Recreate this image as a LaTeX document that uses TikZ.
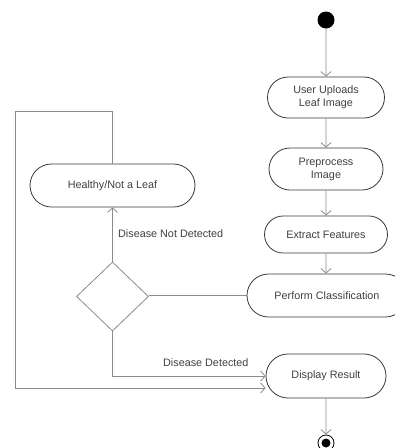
\documentclass[tikz,border=0pt]{standalone}
\usepackage{fontspec}
\setmainfont{Liberation Sans}
\usetikzlibrary{arrows.meta,shapes.geometric,shapes.misc}
\definecolor{linegray}{HTML}{8C8C8C}
\definecolor{boxline}{HTML}{3A3A3A}
\definecolor{txt}{HTML}{404040}
\begin{document}
\begin{tikzpicture}[x=1pt,y=-1pt,
  act/.style={rounded rectangle, draw=boxline, line width=0.8pt, inner sep=0pt,
    font=\fontsize{10.8}{13}\selectfont, text=txt, align=center, fill=white},
  conn/.style={draw=linegray, line width=0.8pt, -{Straight Barb[length=4.5pt,width=10pt,line width=0.8pt]}},
  plain/.style={draw=linegray, line width=0.8pt},
  lbl/.style={font=\fontsize{10.8}{13}\selectfont, text=txt, inner sep=0pt, anchor=west}]
\useasboundingbox (0,0) rectangle (395,448);
\fill[white] (0,0) rectangle (395,448);

\node[circle, fill=black, minimum size=17pt, inner sep=0pt] (st) at (326,20) {};
\node[act, minimum width=117pt, minimum height=41pt] (up) at (326,97.5) {User Uploads\\Leaf Image};
\node[act, minimum width=114pt, minimum height=42pt] (pre) at (326,169) {Preprocess\\Image};
\node[act, minimum width=123pt, minimum height=37pt] (ext) at (326,234.5) {Extract Features};
\node[act, minimum width=160pt, minimum height=43pt] (cls) at (327,295.5) {Perform Classification};
\node[act, minimum width=120pt, minimum height=44pt] (disp) at (326,376) {Display Result};
\node[act, minimum width=165pt, minimum height=43pt] (hl) at (112.5,185.5) {Healthy/Not a Leaf};
\node[diamond, draw=linegray, line width=0.8pt, minimum width=72pt, minimum height=69pt, inner sep=0pt] (dec) at (112.5,296.5) {};
\node[circle, draw=black, line width=0.8pt, minimum size=16pt, inner sep=0pt, fill=white] (en) at (326,443) {};
\node[circle, fill=black, minimum size=9pt, inner sep=0pt] (endot) at (en) {};

\coordinate (l1) at (112.5,111);
\coordinate (l2) at (15,111);
\coordinate (l3) at (15,388);

\draw[conn] (st) -- (up);
\draw[conn] (up) -- (pre);
\draw[conn] (pre) -- (ext);
\draw[conn] (ext) -- (ext |- cls.north);
\draw[plain] (cls.west) -- (cls.west -| dec.east);
\draw[conn] (dec.north) -- (hl.south);
\draw[conn] (dec.south) |- (disp.west);
\draw[conn] (hl.north) -- (l1) -- (l2) -- (l3) -- (l3 -| disp.west);
\draw[conn] (disp) -- (en);

\node[lbl] (ndl) at (118,234) {Disease Not Detected};
\node[lbl] (dl) at (163,363) {Disease Detected};
\end{tikzpicture}
\end{document}
